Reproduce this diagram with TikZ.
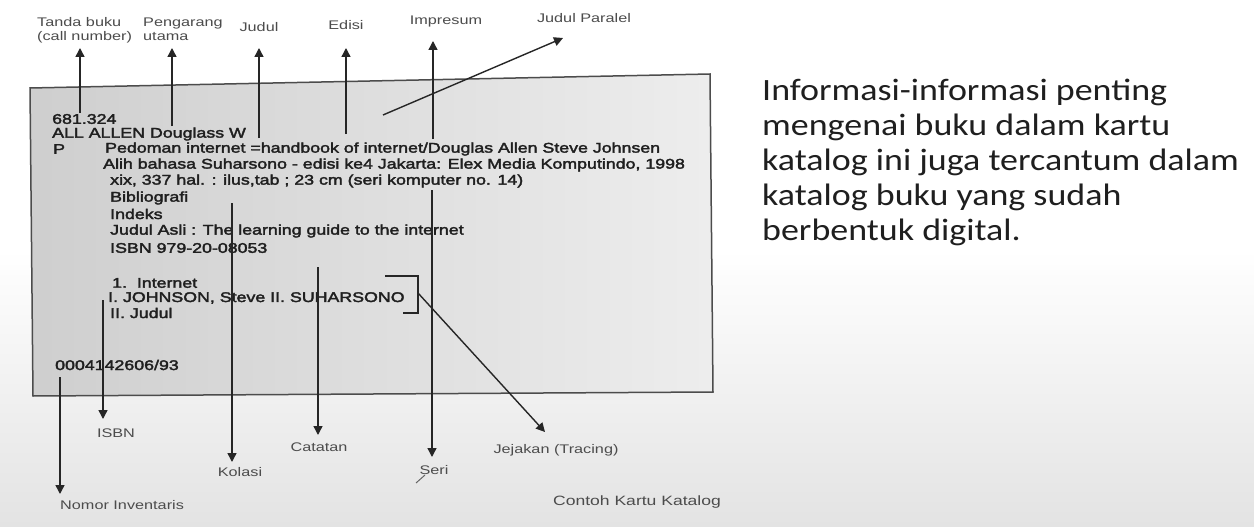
\documentclass[tikz,border=0pt]{standalone}
\usepackage{fontspec}
\setmainfont{Liberation Sans}
\newfontfamily\cardfont{Liberation Sans}[FakeStretch=1.27,FakeBold=2.5]
\newfontfamily\labelfont{Liberation Sans}[FakeStretch=1.3]
\newfontfamily\notefont{Carlito}[FakeStretch=1.16]
\usetikzlibrary{arrows.meta}

\begin{document}
\begin{tikzpicture}[x=1pt,y=-1pt,
  lbl/.style={font=\labelfont\fontsize{12.5}{14}\selectfont, text=black!70, inner sep=0pt, align=left},
  cardtxt/.style={font=\cardfont\fontsize{14}{16}\selectfont, text=black!88, inner sep=0pt, anchor=west},
  pointer/.style={draw=black!85, line width=1.4pt},
  tipped/.style={pointer, -{Triangle[width=9pt,length=9pt]}}]

\useasboundingbox (0,0) rectangle (1254,527);

% page background, greying towards the bottom
\fill[white] (0,0) rectangle (1254,250);
\shade[top color=white, bottom color=gray!22] (0,250) rectangle (1254,527);

% the catalogue card
\shade[left color=gray!38, right color=gray!14] (30,88) -- (710,74) -- (713,392) -- (33,396) -- cycle;
\draw[black!70, line width=1.5pt] (30,88) -- (710,74) -- (713,392) -- (33,396) -- cycle;

% card entries
\node[cardtxt] (callno) at (52,119) {681.324};
\node[cardtxt] (author) at (52,134) {ALL ALLEN Douglass W};
\node[cardtxt] (p) at (53,149) {P};
\node[cardtxt] (title) at (105,149) {Pedoman internet =handbook of internet/Douglas Allen Steve Johnsen};
\node[cardtxt] (imprint) at (103,165) {Alih bahasa Suharsono - edisi ke4 Jakarta: Elex Media Komputindo, 1998};
\node[cardtxt] (collation) at (110,181) {xix, 337 hal. : ilus,tab ; 23 cm (seri komputer no. 14)};
\node[cardtxt] (biblio) at (110,198) {Bibliografi};
\node[cardtxt] (index) at (110,214) {Indeks};
\node[cardtxt] (orig) at (110,231) {Judul Asli : The learning guide to the internet};
\node[cardtxt] (isbnline) at (110,248) {ISBN 979-20-08053};
\node[cardtxt] (subj) at (112,283) {1.\ \ Internet};
\node[cardtxt] (added) at (108,298) {I. JOHNSON, Steve II. SUHARSONO};
\node[cardtxt] (judul2) at (110,313) {II. Judul};
\node[cardtxt] (invno) at (55,365) {0004142606/93};

% labels above the card
\node[lbl, anchor=west] (lTanda) at (37,30) {Tanda buku\\(call number)};
\node[lbl, anchor=west] (lPeng) at (143,29) {Pengarang\\utama};
\node[lbl] (lJudul) at (259,27) {Judul};
\node[lbl] (lEdisi) at (346,25) {Edisi};
\node[lbl] (lImp) at (446,21) {Impresum};
\node[lbl] (lPar) at (584,18) {Judul Paralel};

% labels below the card
\node[lbl] (lIsbn) at (116,433) {ISBN};
\node[lbl, anchor=west] (lInv) at (60,505) {Nomor Inventaris};
\node[lbl] (lKol) at (240,472) {Kolasi};
\node[lbl] (lCat) at (319,447) {Catatan};
\node[lbl] (lSeri) at (434,470) {Seri};
\node[lbl] (lJej) at (556,450) {Jejakan (Tracing)};
\node[lbl, font=\labelfont\fontsize{13.5}{15}\selectfont] (caption) at (637,502) {Contoh Kartu Katalog};

% pointer ends
\coordinate (sTanda) at (80,113);  \coordinate (eTanda) at (80,48);
\coordinate (sPeng) at (172,126);  \coordinate (ePeng) at (172,48);
\coordinate (sJudul) at (259,138); \coordinate (eJudul) at (259,48);
\coordinate (sEdisi) at (346,134); \coordinate (eEdisi) at (346,48);
\coordinate (sImp) at (433,139);   \coordinate (eImp) at (433,41);
\coordinate (sPar) at (383,115);   \coordinate (ePar) at (563,38);
\coordinate (sInv) at (60,377);    \coordinate (eInv) at (60,494);
\coordinate (sIsbn) at (103,300);  \coordinate (eIsbn) at (103,419);
\coordinate (sKol) at (232,203);   \coordinate (eKol) at (232,462);
\coordinate (sCat) at (318,267);   \coordinate (eCat) at (318,435);
\coordinate (sSeri) at (432,190);  \coordinate (eSeri) at (432,457);
\coordinate (bTop) at (385,276);   \coordinate (bCorner) at (418,313);
\coordinate (bEnd) at (403,313);   \coordinate (sJej) at (418,293);
\coordinate (eJej) at (545,432);

% pointers up
\draw[tipped] (sTanda) -- (eTanda);
\draw[tipped] (sPeng) -- (ePeng);
\draw[tipped] (sJudul) -- (eJudul);
\draw[tipped] (sEdisi) -- (eEdisi);
\draw[tipped] (sImp) -- (eImp);
\draw[tipped] (sPar) -- (ePar);

% pointers down
\draw[tipped] (sInv) -- (eInv);
\draw[tipped] (sIsbn) -- (eIsbn);
\draw[tipped] (sKol) -- (eKol);
\draw[tipped] (sCat) -- (eCat);
\draw[tipped] (sSeri) -- (eSeri);

% bracket around the tracings
\draw[pointer] (bTop) -| (bCorner) -- (bEnd);
\draw[tipped] (sJej) -- (eJej);

% pen stroke under "Seri"
\draw[black!60, line width=1pt] (416,483) -- (425,475);

% explanatory note
\node[font=\notefont\fontsize{31}{35}\selectfont, text=black!88, align=left, anchor=north west, inner sep=0pt] (note) at (762,79)
  {Informasi-informasi penting\\mengenai buku dalam kartu\\katalog ini juga tercantum dalam\\katalog buku yang sudah\\berbentuk digital.};
\end{tikzpicture}
\end{document}
